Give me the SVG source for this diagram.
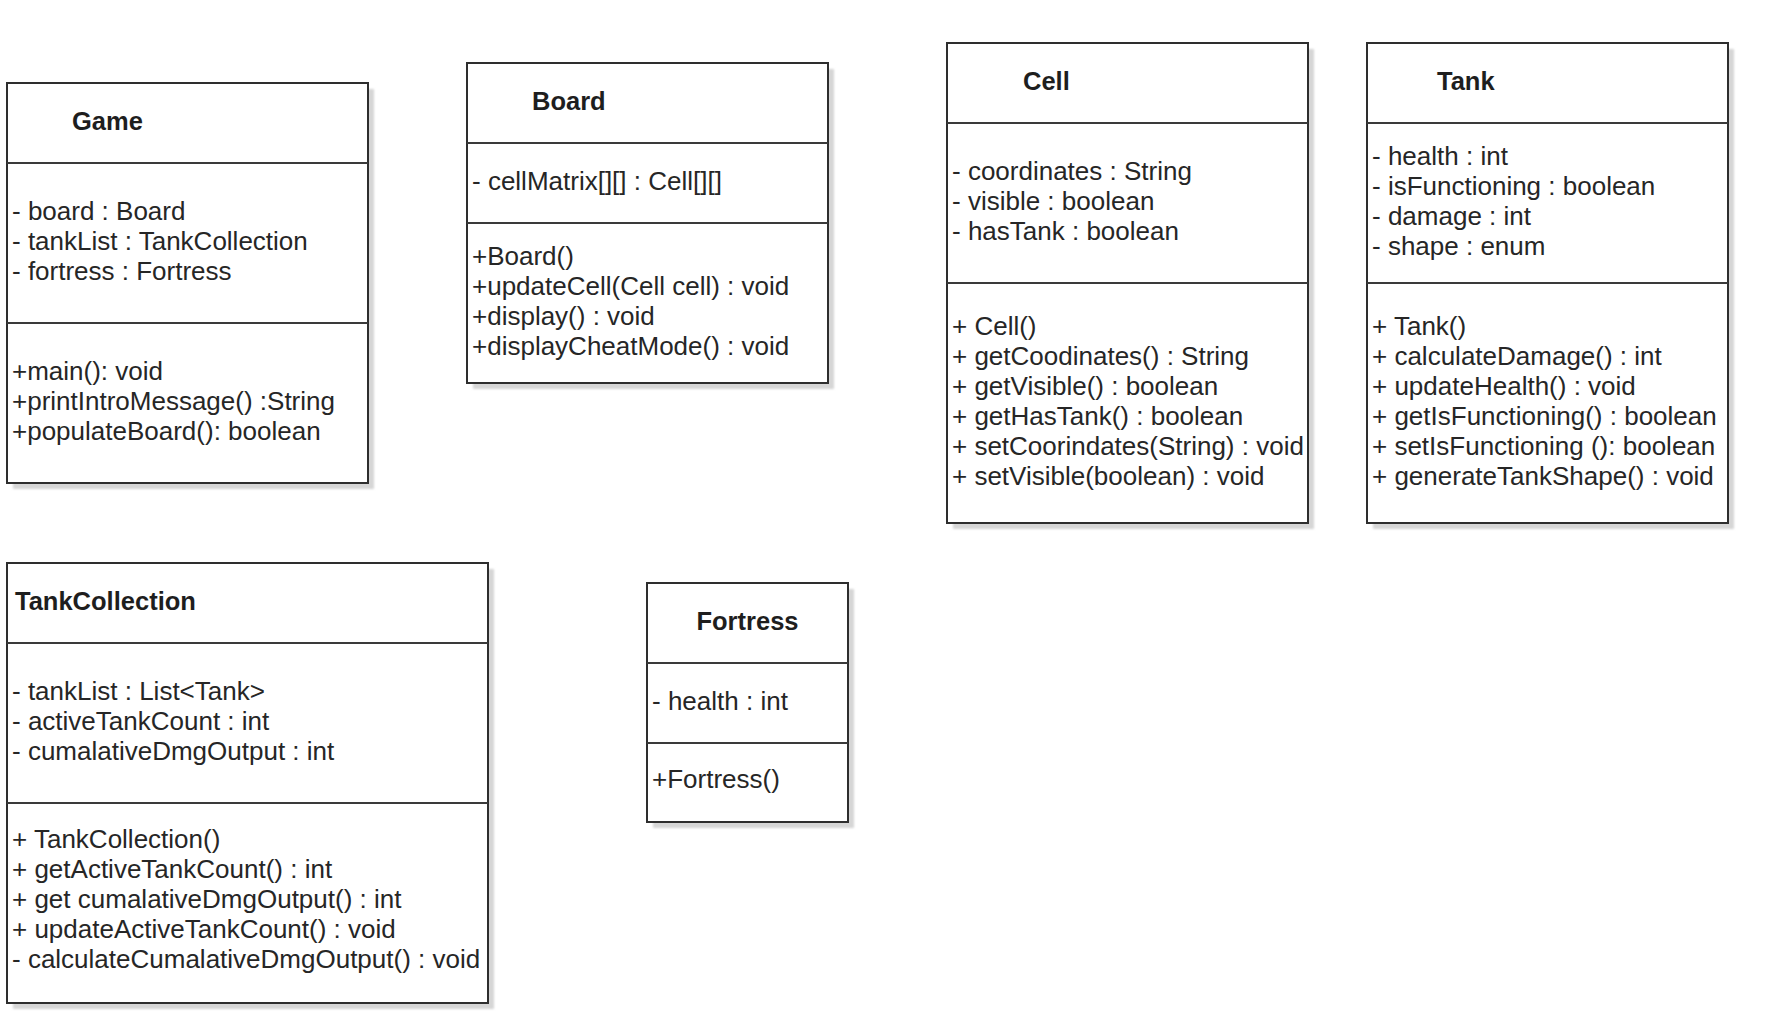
<svg xmlns="http://www.w3.org/2000/svg" width="1766" height="1036" viewBox="0 0 1766 1036">
  <style>
    .shadow { fill: #d6d6d6; filter: url(#soft); }
    .box { fill: #ffffff; stroke: #2e2e2e; stroke-width: 2; }
    .sep { stroke: #3a3a3a; stroke-width: 2; }
    .title { font-family: "Liberation Sans", Arial, sans-serif; font-weight: bold; font-size: 25.5px; fill: #1e1e1e; }
    .item { font-family: "Liberation Sans", Arial, sans-serif; font-size: 26px; fill: #262626; }
  </style>
  <defs>
    <filter id="soft" x="-5%" y="-5%" width="110%" height="110%">
      <feGaussianBlur stdDeviation="1.2"/>
    </filter>
  </defs>
  <rect width="1766" height="1036" fill="#ffffff"/>

  <!-- Game -->
  <g id="game">
    <rect class="shadow" x="13" y="89" width="361" height="400"/>
    <rect class="box" x="7" y="83" width="361" height="400"/>
    <line class="sep" x1="7" y1="163" x2="368" y2="163"/>
    <line class="sep" x1="7" y1="323" x2="368" y2="323"/>
    <text class="title" x="72" y="130">Game</text>
    <text class="item" x="12" y="220">- board : Board</text>
    <text class="item" x="12" y="250">- tankList : TankCollection</text>
    <text class="item" x="12" y="280">- fortress : Fortress</text>
    <text class="item" x="12" y="380">+main(): void</text>
    <text class="item" x="12" y="410">+printIntroMessage() :String</text>
    <text class="item" x="12" y="440">+populateBoard(): boolean</text>
  </g>

  <!-- Board -->
  <g id="board">
    <rect class="shadow" x="473" y="69" width="361" height="320"/>
    <rect class="box" x="467" y="63" width="361" height="320"/>
    <line class="sep" x1="467" y1="143" x2="828" y2="143"/>
    <line class="sep" x1="467" y1="223" x2="828" y2="223"/>
    <text class="title" x="532" y="110">Board</text>
    <text class="item" x="472" y="190">- cellMatrix[][] : Cell[][]</text>
    <text class="item" x="472" y="265">+Board()</text>
    <text class="item" x="472" y="295">+updateCell(Cell cell) : void</text>
    <text class="item" x="472" y="325">+display() : void</text>
    <text class="item" x="472" y="355">+displayCheatMode() : void</text>
  </g>

  <!-- Cell -->
  <g id="cell">
    <rect class="shadow" x="953" y="49" width="361" height="480"/>
    <rect class="box" x="947" y="43" width="361" height="480"/>
    <line class="sep" x1="947" y1="123" x2="1308" y2="123"/>
    <line class="sep" x1="947" y1="283" x2="1308" y2="283"/>
    <text class="title" x="1023" y="90">Cell</text>
    <text class="item" x="952" y="180">- coordinates : String</text>
    <text class="item" x="952" y="210">- visible : boolean</text>
    <text class="item" x="952" y="240">- hasTank : boolean</text>
    <text class="item" x="952" y="335">+ Cell()</text>
    <text class="item" x="952" y="365">+ getCoodinates() : String</text>
    <text class="item" x="952" y="395">+ getVisible() : boolean</text>
    <text class="item" x="952" y="425">+ getHasTank() : boolean</text>
    <text class="item" x="952" y="455">+ setCoorindates(String) : void</text>
    <text class="item" x="952" y="485">+ setVisible(boolean) : void</text>
  </g>

  <!-- Tank -->
  <g id="tank">
    <rect class="shadow" x="1373" y="49" width="361" height="480"/>
    <rect class="box" x="1367" y="43" width="361" height="480"/>
    <line class="sep" x1="1367" y1="123" x2="1728" y2="123"/>
    <line class="sep" x1="1367" y1="283" x2="1728" y2="283"/>
    <text class="title" x="1437" y="90">Tank</text>
    <text class="item" x="1372" y="165">- health : int</text>
    <text class="item" x="1372" y="195">- isFunctioning : boolean</text>
    <text class="item" x="1372" y="225">- damage : int</text>
    <text class="item" x="1372" y="255">- shape : enum</text>
    <text class="item" x="1372" y="335">+ Tank()</text>
    <text class="item" x="1372" y="365">+ calculateDamage() : int</text>
    <text class="item" x="1372" y="395">+ updateHealth() : void</text>
    <text class="item" x="1372" y="425">+ getIsFunctioning() : boolean</text>
    <text class="item" x="1372" y="455">+ setIsFunctioning (): boolean</text>
    <text class="item" x="1372" y="485">+ generateTankShape() : void</text>
  </g>

  <!-- TankCollection -->
  <g id="tankcollection">
    <rect class="shadow" x="13" y="569" width="481" height="440"/>
    <rect class="box" x="7" y="563" width="481" height="440"/>
    <line class="sep" x1="7" y1="643" x2="488" y2="643"/>
    <line class="sep" x1="7" y1="803" x2="488" y2="803"/>
    <text class="title" x="15" y="610">TankCollection</text>
    <text class="item" x="12" y="700">- tankList : List&lt;Tank&gt;</text>
    <text class="item" x="12" y="730">- activeTankCount : int</text>
    <text class="item" x="12" y="760">- cumalativeDmgOutput : int</text>
    <text class="item" x="12" y="848">+ TankCollection()</text>
    <text class="item" x="12" y="878">+ getActiveTankCount() : int</text>
    <text class="item" x="12" y="908">+ get cumalativeDmgOutput() : int</text>
    <text class="item" x="12" y="938">+ updateActiveTankCount() : void</text>
    <text class="item" x="12" y="968">- calculateCumalativeDmgOutput() : void</text>
  </g>

  <!-- Fortress -->
  <g id="fortress">
    <rect class="shadow" x="653" y="589" width="201" height="239"/>
    <rect class="box" x="647" y="583" width="201" height="239"/>
    <line class="sep" x1="647" y1="663" x2="848" y2="663"/>
    <line class="sep" x1="647" y1="743" x2="848" y2="743"/>
    <text class="title" x="747.5" y="630" text-anchor="middle">Fortress</text>
    <text class="item" x="652" y="710">- health : int</text>
    <text class="item" x="652" y="788">+Fortress()</text>
  </g>

  <!-- no associations are drawn between the classes -->
  <g id="connectors"/>
</svg>
